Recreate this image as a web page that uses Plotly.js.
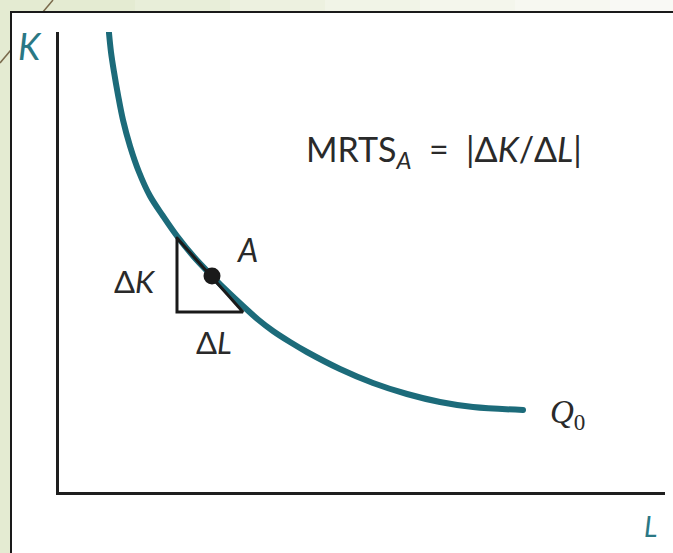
<!DOCTYPE html>
<html>
<head>
<meta charset="utf-8">
<script src="https://cdn.plot.ly/plotly-3.0.1.min.js"></script>
<style>html,body{margin:0;padding:0;background:#e4ebd2;}#chart{width:673px;height:553px;}
.js-line{stroke-linecap:round;}</style>
</head>
<body>
<div id="chart"></div>
<script>
// Isoquant Q0 (labour L, capital K)
var curveL = [0.825, 0.858, 0.908, 0.974, 1.056, 1.172, 1.320, 1.502, 1.716, 1.947, 2.228, 2.525,
              2.789, 3.036, 3.284, 3.531, 3.812, 4.092, 4.637, 5.182, 5.743, 6.287, 6.832, 7.657];
var curveK = [7.583, 7.269, 6.939, 6.559, 6.146, 5.716, 5.287, 4.890, 4.560, 4.229, 3.883, 3.569,
              3.304, 3.073, 2.850, 2.660, 2.478, 2.313, 2.032, 1.801, 1.619, 1.487, 1.404, 1.355];
// Point A
var pointL = [2.525];
var pointK = [3.57];
// Triangle ΔK / ΔL (top, bottom-left corner, bottom-right, back to top)
var triL = [1.947, 1.947, 3.036, 1.947];
var triK = [4.196, 2.974, 2.974, 4.196];

var W = 673, H = 553, ML = 59, MT = 32, PW = 606, PH = 460;
function px(x) { return (x - ML) / PW; }
function py(y) { return (MT + PH - y) / PH; }

var teal = '#1c6b7a';
var traces = [
  {x: curveL, y: curveK, mode: 'lines', type: 'scatter', cliponaxis: false,
   line: {color: teal, width: 6, shape: 'spline', smoothing: 1}, hoverinfo: 'none'},
  {x: triL, y: triK, mode: 'lines', type: 'scatter', cliponaxis: false,
   line: {color: '#1a1a1a', width: 3}, hoverinfo: 'none'},
  {x: pointL, y: pointK, mode: 'markers', type: 'scatter', cliponaxis: false,
   marker: {color: '#1a1a1a', size: 17}, hoverinfo: 'none'}
];

var shapes = [];
// top strip gradient (green -> near white)
var stripCols = ['#e4ebd2','#e8eed9','#edf1e0','#f1f4e7','#f4f6ec','#f7f8f1','#f9f9f5'];
for (var i = 0; i < stripCols.length; i++) {
  shapes.push({type: 'rect', xref: 'paper', yref: 'paper', layer: 'below',
    x0: px(40 + i * 95), x1: px(40 + (i + 1) * 95 + 2), y0: py(0), y1: py(12),
    fillcolor: stripCols[i], line: {width: 0}});
}
// diagonal decorative line
shapes.push({type: 'line', xref: 'paper', yref: 'paper', layer: 'below',
  x0: px(0), y0: py(63), x1: px(53), y1: py(0), line: {color: '#7a6a4c', width: 1.5}});
// white panel with black border
shapes.push({type: 'rect', xref: 'paper', yref: 'paper', layer: 'below',
  x0: px(11), y0: py(12), x1: px(700), y1: py(600),
  fillcolor: '#ffffff', line: {color: '#1a1a1a', width: 2}});

var sans = 'Lato, "Open Sans", sans-serif';
var annotations = [
  {text: '<i>K</i>', x: px(30), y: py(46), font: {family: sans, size: 36, color: '#2a7884'}},
  {text: '<i>L</i>', x: px(650), y: py(526), font: {family: sans, size: 28, color: '#2a7884'}},
  {text: 'MRTS<sub><i>A</i></sub>&nbsp; = &nbsp;|Δ<i>K</i>/Δ<i>L</i>|', x: px(444), y: py(151), font: {family: sans, size: 34, color: '#2a2a2a'}},
  {text: '<i>A</i>', x: px(247), y: py(249), font: {family: sans, size: 32, color: '#2a2a2a'}},
  {text: 'Δ<i>K</i>', x: px(135), y: py(281), font: {family: sans, size: 31, color: '#2a2a2a'}},
  {text: 'Δ<i>L</i>', x: px(214), y: py(342), font: {family: sans, size: 31, color: '#2a2a2a'}},
  {text: '<i>Q</i><sub>0</sub>', x: px(567), y: py(414), font: {family: '"Liberation Serif", "DejaVu Serif", serif', size: 33, color: '#2a2a2a'}}
];
annotations.forEach(function (a) {
  a.xref = 'paper'; a.yref = 'paper'; a.showarrow = false;
  a.xanchor = 'center'; a.yanchor = 'middle';
});

var layout = {
  width: W, height: H,
  margin: {l: ML, r: W - ML - PW, t: MT, b: H - MT - PH, pad: 0},
  paper_bgcolor: '#e4ebd2',
  plot_bgcolor: 'rgba(0,0,0,0)',
  showlegend: false,
  xaxis: {range: [0, 10], showline: true, linecolor: '#1e1e1e', linewidth: 3,
          showgrid: false, zeroline: false, showticklabels: false, ticks: '', fixedrange: true},
  yaxis: {range: [0, 7.6], showline: true, linecolor: '#1e1e1e', linewidth: 3,
          showgrid: false, zeroline: false, showticklabels: false, ticks: '', fixedrange: true},
  shapes: shapes,
  annotations: annotations
};

Plotly.newPlot('chart', traces, layout, {displayModeBar: false, staticPlot: true});
</script>
</body>
</html>
